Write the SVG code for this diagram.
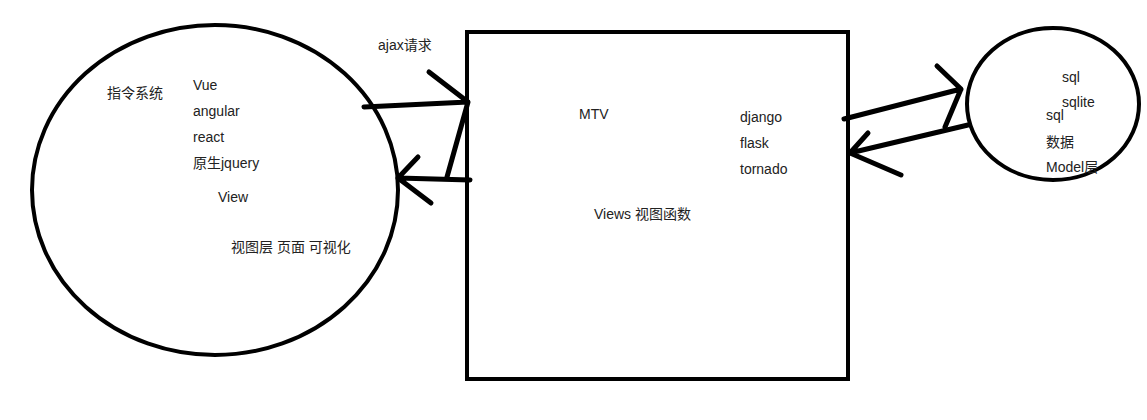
<svg xmlns="http://www.w3.org/2000/svg" width="1147" height="420" viewBox="0 0 1147 420">
<style>
.shape{fill:none;stroke:#000;stroke-width:4}
.conn{fill:none;stroke:#000;stroke-width:5;stroke-linecap:round;stroke-linejoin:round}
text{font-family:"Liberation Sans","Noto Sans CJK SC",sans-serif;font-size:14px;fill:#222}
</style>
<rect width="1147" height="420" fill="#fff"/>
<g id="view-node">
<ellipse class="shape" cx="215" cy="190" rx="183" ry="165"/>
<text x="107" y="98">指令系统</text>
<text x="193" y="90">Vue</text>
<text x="193" y="116">angular</text>
<text x="193" y="142">react</text>
<text x="193" y="168">原生jquery</text>
<text x="218" y="202">View</text>
<text x="231" y="252">视图层 页面 可视化</text>
</g>
<g id="server-node">
<rect class="shape" x="467" y="32" width="381" height="347"/>
<text x="579" y="119">MTV</text>
<text x="740" y="122">django</text>
<text x="740" y="148">flask</text>
<text x="740" y="174">tornado</text>
<text x="594" y="219">Views 视图函数</text>
</g>
<g id="model-node">
<ellipse class="shape" cx="1053" cy="104" rx="86" ry="76"/>
<text x="1062" y="82">sql</text>
<text x="1062" y="107">sqlite</text>
<text x="1046" y="120">sql</text>
<text x="1046" y="147">数据</text>
<text x="1046" y="172">Model层</text>
</g>
<g id="connectors">
<text x="378" y="50">ajax请求</text>
<path class="conn" d="M364,107 L468,102 M429,72 L468,102 L447,177"/>
<path class="conn" d="M470,180 L398,178 M418,157 L398,178 L431,203"/>
<path class="conn" d="M844,119 L961,89 M937,66 L961,89 L945,127"/>
<path class="conn" d="M968,125 L850,153 M868,133 L850,153 L901,175"/>
</g>
</svg>
